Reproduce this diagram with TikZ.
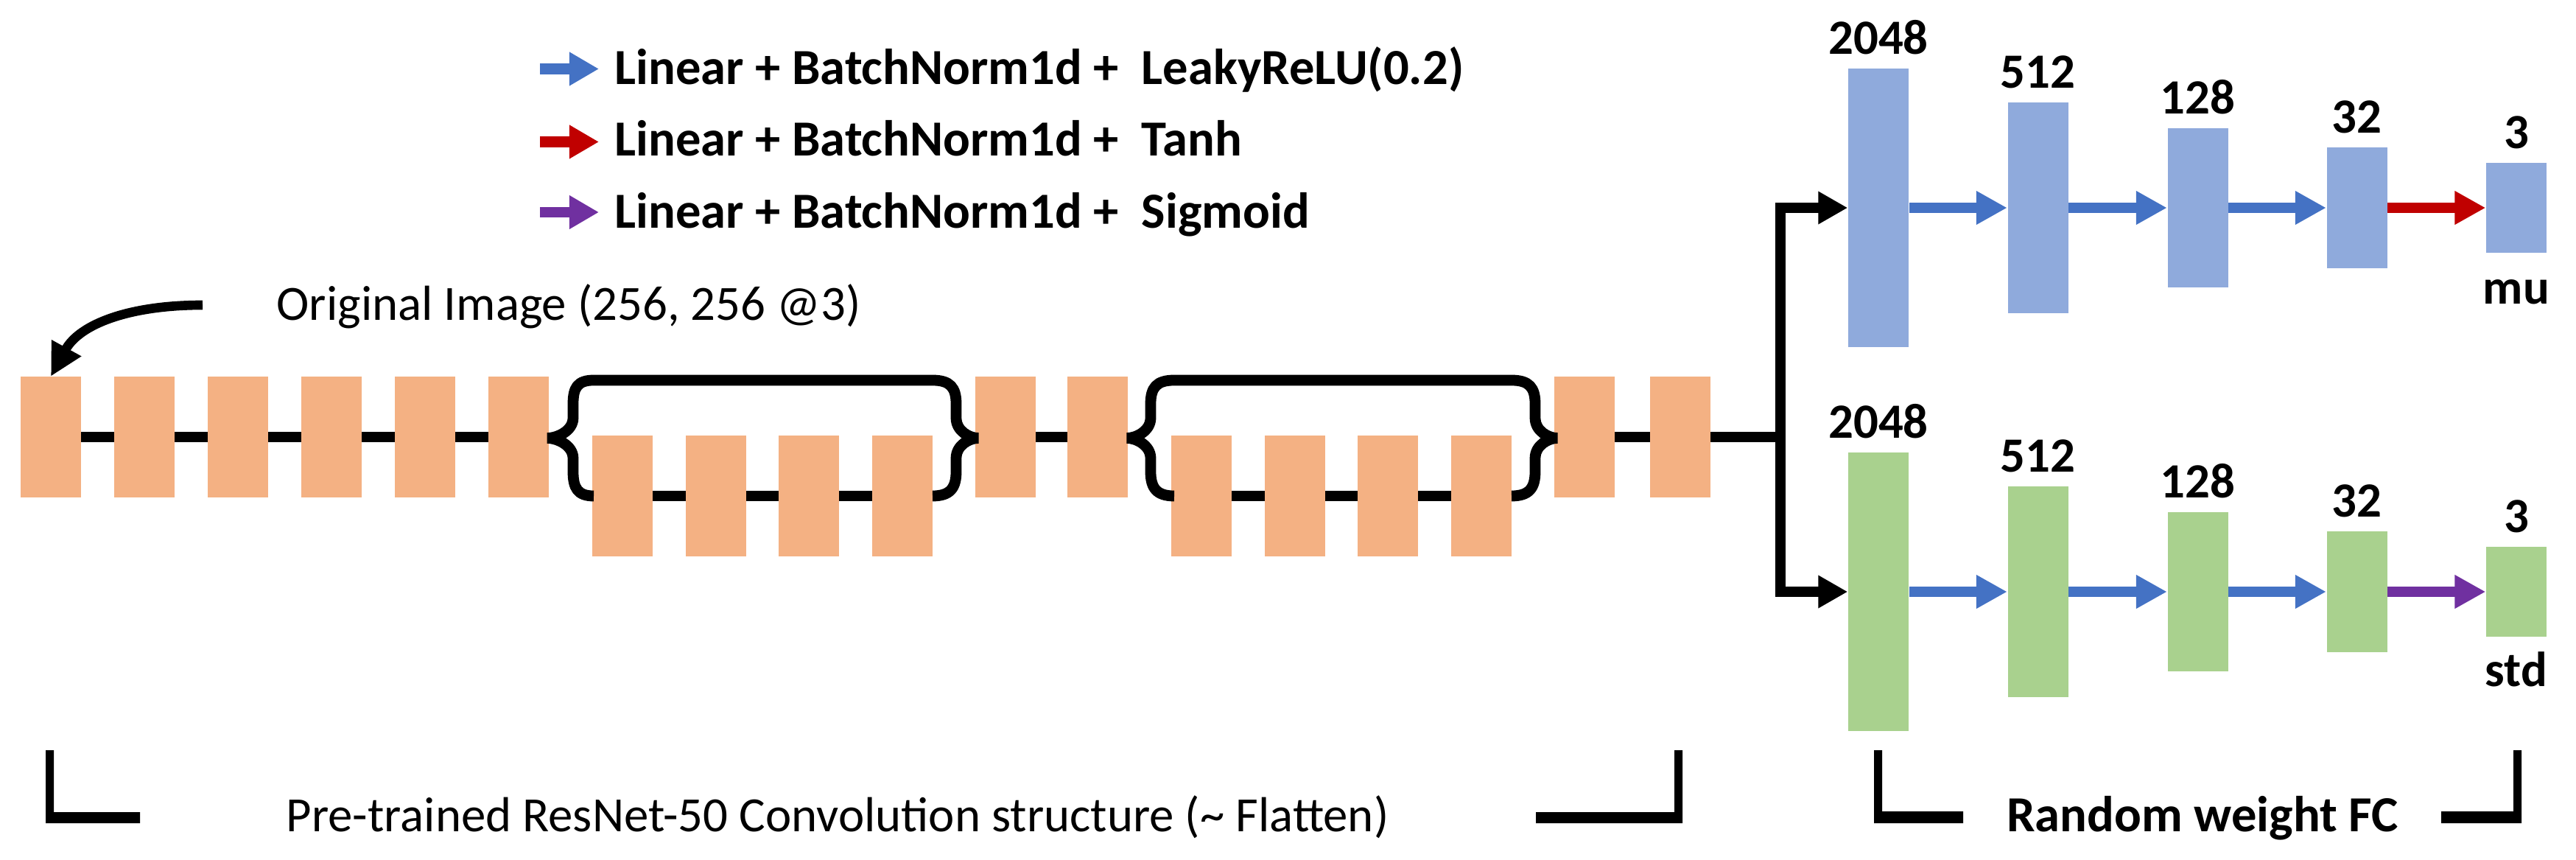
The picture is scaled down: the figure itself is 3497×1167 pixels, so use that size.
\documentclass[tikz,border=0pt]{standalone}
\usepackage{fontspec}
\setmainfont{Carlito}
\usetikzlibrary{arrows.meta}
\definecolor{orbox}{HTML}{F4B183}
\definecolor{blbox}{HTML}{8FAADC}
\definecolor{grbox}{HTML}{A9D18E}
\definecolor{blarrow}{HTML}{4472C4}
\definecolor{rdarrow}{HTML}{C00000}
\definecolor{pparrow}{HTML}{7030A0}
\pgfdeclarelayer{bg}
\pgfsetlayers{bg,main}
\begin{document}
\begin{tikzpicture}[x=0.01cm, y=-0.01cm,
  obox/.style={fill=orbox, inner sep=0pt, minimum width=0.82cm, minimum height=1.63cm},
  fcb/.style={inner sep=0pt, minimum width=0.82cm, minimum height=#1},
  bluebox/.style={fcb=#1, fill=blbox},
  greenbox/.style={fcb=#1, fill=grbox},
  conn/.style={line width=4pt, black},
  brc/.style={line width=4.2pt, black, line join=miter},
  fcarrow/.style={line width=3.8pt, -{Triangle[length=0.42cm, width=0.43cm]}},
  blkarrow/.style={line width=4pt, black, -{Triangle[length=0.40cm, width=0.42cm]}},
  legarrow/.style={line width=4.2pt, -{Triangle[length=0.40cm, width=0.43cm]}},
  numlab/.style={font=\fontsize{19}{23}\selectfont\bfseries, anchor=base, inner sep=0pt},
  legtext/.style={font=\fontsize{19.5}{23}\selectfont\bfseries, anchor=base west, inner sep=0pt},
  regtext/.style={font=\fontsize{19}{23}\selectfont, inner sep=0pt},
  bractext/.style={font=\fontsize{19.5}{23}\selectfont\bfseries, anchor=base, inner sep=0pt}
]
\useasboundingbox (0,0) rectangle (3497,1167);

% ---------- legend ----------
\coordinate (l1s) at (733,93.5);  \coordinate (l1e) at (813,93.5);
\coordinate (l2s) at (733,192.5); \coordinate (l2e) at (813,192.5);
\coordinate (l3s) at (733,288);   \coordinate (l3e) at (813,288);
\draw[legarrow, blarrow] (l1s) -- (l1e);
\draw[legarrow, rdarrow] (l2s) -- (l2e);
\draw[legarrow, pparrow] (l3s) -- (l3e);
\node[legtext] (t1) at (834,115) {Linear + BatchNorm1d +\ \ LeakyReLU(0.2)};
\node[legtext] (t2) at (834,212) {Linear + BatchNorm1d +\ \ Tanh};
\node[legtext] (t3) at (834,310) {Linear + BatchNorm1d +\ \ Sigmoid};

% ---------- ResNet boxes ----------
\node[obox] (a1) at (69,593) {};
\node[obox] (a2) at (196,593) {};
\node[obox] (a3) at (323,593) {};
\node[obox] (a4) at (450,593) {};
\node[obox] (a5) at (577,593) {};
\node[obox] (a6) at (704,593) {};
\node[obox] (b1) at (845,673) {};
\node[obox] (b2) at (972,673) {};
\node[obox] (b3) at (1098,673) {};
\node[obox] (b4) at (1225,673) {};
\node[obox] (c1) at (1365,593) {};
\node[obox] (c2) at (1490,593) {};
\node[obox] (d1) at (1631,673) {};
\node[obox] (d2) at (1758,673) {};
\node[obox] (d3) at (1884,673) {};
\node[obox] (d4) at (2011,673) {};
\node[obox] (e1) at (2151,593) {};
\node[obox] (e2) at (2281,593) {};

\coordinate (jn) at (2417,593);

\begin{pgfonlayer}{bg}
\draw[conn] (a1.center) -- (a6.center);
\draw[conn] (b1.center) -- (b4.center);
\draw[conn] (c1.center) -- (c2.center);
\draw[conn] (d1.center) -- (d4.center);
\draw[conn] (e1.center) -- (e2.center) -- (jn);
\end{pgfonlayer}

% braces
\draw[brc] (806,673) .. controls (784,673) and (778,662) .. (778,640) -- (778,622)
  .. controls (778,604) and (756,594.5) .. (743,594.5)
  .. controls (756,594.5) and (778,585) .. (778,567) -- (778,548)
  .. controls (778,526) and (784,516) .. (806,516) -- (1266,516)
  .. controls (1290,516) and (1298,526) .. (1298,548) -- (1298,567)
  .. controls (1298,585) and (1316,594.5) .. (1328,594.5)
  .. controls (1316,594.5) and (1298,604) .. (1298,622) -- (1298,640)
  .. controls (1298,662) and (1290,673) .. (1266,673);
\draw[brc] (1594,673) .. controls (1570,673) and (1562,662) .. (1562,640) -- (1562,622)
  .. controls (1562,604) and (1542,594.5) .. (1530,594.5)
  .. controls (1542,594.5) and (1562,585) .. (1562,567) -- (1562,548)
  .. controls (1562,526) and (1570,516) .. (1594,516) -- (2052,516)
  .. controls (2076,516) and (2084,526) .. (2084,548) -- (2084,567)
  .. controls (2084,585) and (2102,594.5) .. (2114,594.5)
  .. controls (2102,594.5) and (2084,604) .. (2084,622) -- (2084,640)
  .. controls (2084,662) and (2076,673) .. (2052,673);

% original image arrow
\node[regtext, anchor=base west] (oi) at (375,435) {Original Image (256, 256 @3)};
\coordinate (oistart) at (275,414);
\draw[line width=3.6pt, -{Triangle[length=0.44cm, width=0.43cm]}]
  (oistart) .. controls (175,414) and (108,440) .. (a1.north);

% ---------- FC heads ----------
\node[bluebox=3.77cm] (m1) at (2550,282) {};
\node[bluebox=2.86cm] (m2) at (2766.5,282) {};
\node[bluebox=2.15cm] (m3) at (2983.5,282) {};
\node[bluebox=1.63cm] (m4) at (3199.5,282) {};
\node[bluebox=1.22cm] (m5) at (3416,282) {};
\node[greenbox=3.77cm] (s1) at (2550,803) {};
\node[greenbox=2.86cm] (s2) at (2766.5,803) {};
\node[greenbox=2.15cm] (s3) at (2983.5,803) {};
\node[greenbox=1.63cm] (s4) at (3199.5,803) {};
\node[greenbox=1.22cm] (s5) at (3416,803) {};

\draw[blkarrow] (jn) |- (m1);
\draw[blkarrow] (jn) |- (s1);

\draw[fcarrow, blarrow] (m1) -- (m2);
\draw[fcarrow, blarrow] (m2) -- (m3);
\draw[fcarrow, blarrow] (m3) -- (m4);
\draw[fcarrow, rdarrow] (m4) -- (m5);
\draw[fcarrow, blarrow] (s1) -- (s2);
\draw[fcarrow, blarrow] (s2) -- (s3);
\draw[fcarrow, blarrow] (s3) -- (s4);
\draw[fcarrow, pparrow] (s4) -- (s5);

\node[numlab] (lm1) at ([yshift=0.19cm]m1.north) {2048};
\node[numlab] (lm2) at ([yshift=0.19cm]m2.north) {512};
\node[numlab] (lm3) at ([yshift=0.19cm]m3.north) {128};
\node[numlab] (lm4) at ([yshift=0.19cm]m4.north) {32};
\node[numlab] (lm5) at ([yshift=0.19cm]m5.north) {3};
\node[numlab] (ls1) at ([yshift=0.19cm]s1.north) {2048};
\node[numlab] (ls2) at ([yshift=0.19cm]s2.north) {512};
\node[numlab] (ls3) at ([yshift=0.19cm]s3.north) {128};
\node[numlab] (ls4) at ([yshift=0.19cm]s4.north) {32};
\node[numlab] (ls5) at ([yshift=0.19cm]s5.north) {3};
\node[numlab] (mu) at ([yshift=-0.69cm]m5.south) {mu};
\node[numlab] (std) at ([yshift=-0.67cm]s5.south) {std};

% ---------- bottom brackets ----------
\fill (62,1018) -- (73,1018) -- (73,1102) -- (190,1102) -- (190,1117) -- (62,1117) -- cycle;
\fill (2085,1102) -- (2273,1102) -- (2273,1018) -- (2284,1018) -- (2284,1117) -- (2085,1117) -- cycle;
\fill (2544,1018) -- (2555,1018) -- (2555,1101) -- (2665,1101) -- (2665,1117) -- (2544,1117) -- cycle;
\fill (3314,1101) -- (3412,1101) -- (3412,1018) -- (3423,1018) -- (3423,1117) -- (3314,1117) -- cycle;
\node[regtext, anchor=base] (pt) at (1137,1128) {Pre-trained ResNet-50 Convolution structure (\textasciitilde{} Flatten)};
\node[bractext] (rw) at (2990,1128) {Random weight FC};
\end{tikzpicture}
\end{document}
